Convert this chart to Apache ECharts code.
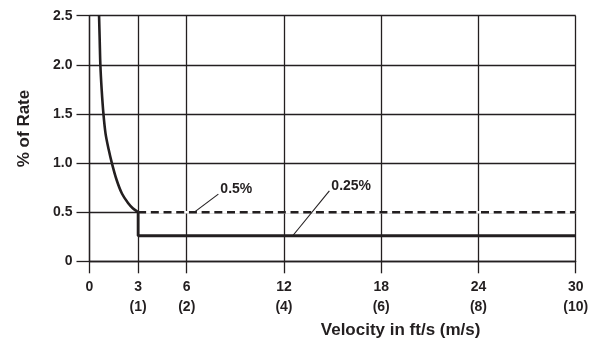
<!DOCTYPE html>
<html>
<head>
<meta charset="utf-8">
<script src="https://cdn.jsdelivr.net/npm/echarts@6/dist/echarts.min.js"></script>
<style>html,body{margin:0;padding:0;background:#fff}#c{width:590px;height:341px}</style>
</head>
<body>
<div id="c"></div>
<script>
// ---- data ----
const xTicks = [0, 3, 6, 12, 18, 24, 30];
const xTickMetric = ['', '(1)', '(2)', '(4)', '(6)', '(8)', '(10)'];
const yTicks = [0, 0.5, 1.0, 1.5, 2.0, 2.5];
const curveX = [0.59, 0.63, 0.67, 0.75, 0.86, 0.99, 1.18, 1.38, 1.67, 2.0, 2.39, 2.67, 3.0];
const curveY = [2.5, 2.25, 2.0, 1.75, 1.5, 1.3, 1.14, 1.0, 0.83, 0.69, 0.59, 0.54, 0.5];
const dashedX = [3, 30];
const dashedY = [0.5, 0.5];
const solidX = [3, 3, 30];
const solidY = [0.5, 0.26, 0.26];
const noteLabels = ['0.5%', '0.25%'];
const noteFrom = [[6.47, 0.5], [12.54, 0.26]];
const noteTo = [[7.95, 0.684], [14.8, 0.717]];

const INK = '#231f20';
const FONT = "'Liberation Sans', Arial, sans-serif";
const zip = (xs, ys) => xs.map((x, i) => [x, ys[i]]);

const chart = echarts.init(document.getElementById('c'), null, {renderer: 'canvas'});
chart.setOption({
  animation: false,
  backgroundColor: '#fff',
  grid: {left: 89.5, right: 14.3, top: 15.7, bottom: 79.7, containLabel: false, outerBoundsMode: 'none'},
  xAxis: {
    type: 'value', min: 0, max: 30, interval: 3,
    name: 'Velocity in ft/s (m/s)', nameLocation: 'middle', nameGap: 55,
    nameTextStyle: {fontFamily: FONT, fontWeight: 'bold', fontSize: 17, color: INK, padding: [0, 0, 0, 136]},
    axisLine: {show: true, lineStyle: {color: INK, width: 1.3}},
    axisTick: {show: true, length: 12, customValues: xTicks, lineStyle: {color: INK, width: 1.3}},
    axisLabel: {
      customValues: xTicks, margin: 16, fontFamily: FONT, fontWeight: 'bold', fontSize: 14, color: INK, lineHeight: 20,
      formatter: v => { const i = xTicks.indexOf(v); return xTickMetric[i] ? v + '\n' + xTickMetric[i] : String(v); }
    },
    splitLine: {show: true, lineStyle: {color: INK, width: 1.3}}
  },
  yAxis: {
    type: 'value', min: 0, max: 2.5, interval: 0.5,
    name: '% of Rate', nameLocation: 'middle', nameGap: 57,
    nameTextStyle: {fontFamily: FONT, fontWeight: 'bold', fontSize: 17, color: INK, padding: [0, 0, 0, 20]},
    axisLine: {show: true, lineStyle: {color: INK, width: 1.3}},
    axisTick: {show: true, length: 13, lineStyle: {color: INK, width: 1.3}},
    axisLabel: {margin: 17, fontFamily: FONT, fontWeight: 'bold', fontSize: 14, color: INK,
      formatter: v => v === 0 ? '0' : v.toFixed(1)},
    splitLine: {show: true, lineStyle: {color: INK, width: 1.3}}
  },
  series: [
    {type: 'line', data: zip(curveX, curveY), smooth: 0.3, showSymbol: false, symbol: 'none',
     lineStyle: {color: INK, width: 2.6}, z: 5},
    {type: 'line', data: zip(dashedX, dashedY), showSymbol: false, symbol: 'none',
     lineStyle: {color: '#ffffff', width: 2.6}, z: 3},
    {type: 'line', data: zip(dashedX, dashedY), showSymbol: false, symbol: 'none',
     lineStyle: {color: INK, width: 2.5, type: [8, 4.7]}, z: 4},
    {type: 'line', data: zip(solidX, solidY), showSymbol: false, symbol: 'none',
     lineStyle: {color: INK, width: 2.8}, z: 5},
    {type: 'line', data: [], symbol: 'none',
     markLine: {silent: true, symbol: 'none', label: {show: false},
       lineStyle: {color: INK, width: 1.1, type: 'solid'},
       data: noteFrom.map((p, i) => [{coord: p}, {coord: noteTo[i]}])},
     markPoint: {silent: true, symbol: 'circle', symbolSize: 0,
       label: {show: true, position: 'right', distance: 2, fontFamily: FONT, fontWeight: 'bold', fontSize: 14, color: INK,
         offset: [0, -5], formatter: p => p.name},
       data: noteTo.map((p, i) => ({name: noteLabels[i], coord: p}))}
    }
  ]
});
</script>
</body>
</html>
